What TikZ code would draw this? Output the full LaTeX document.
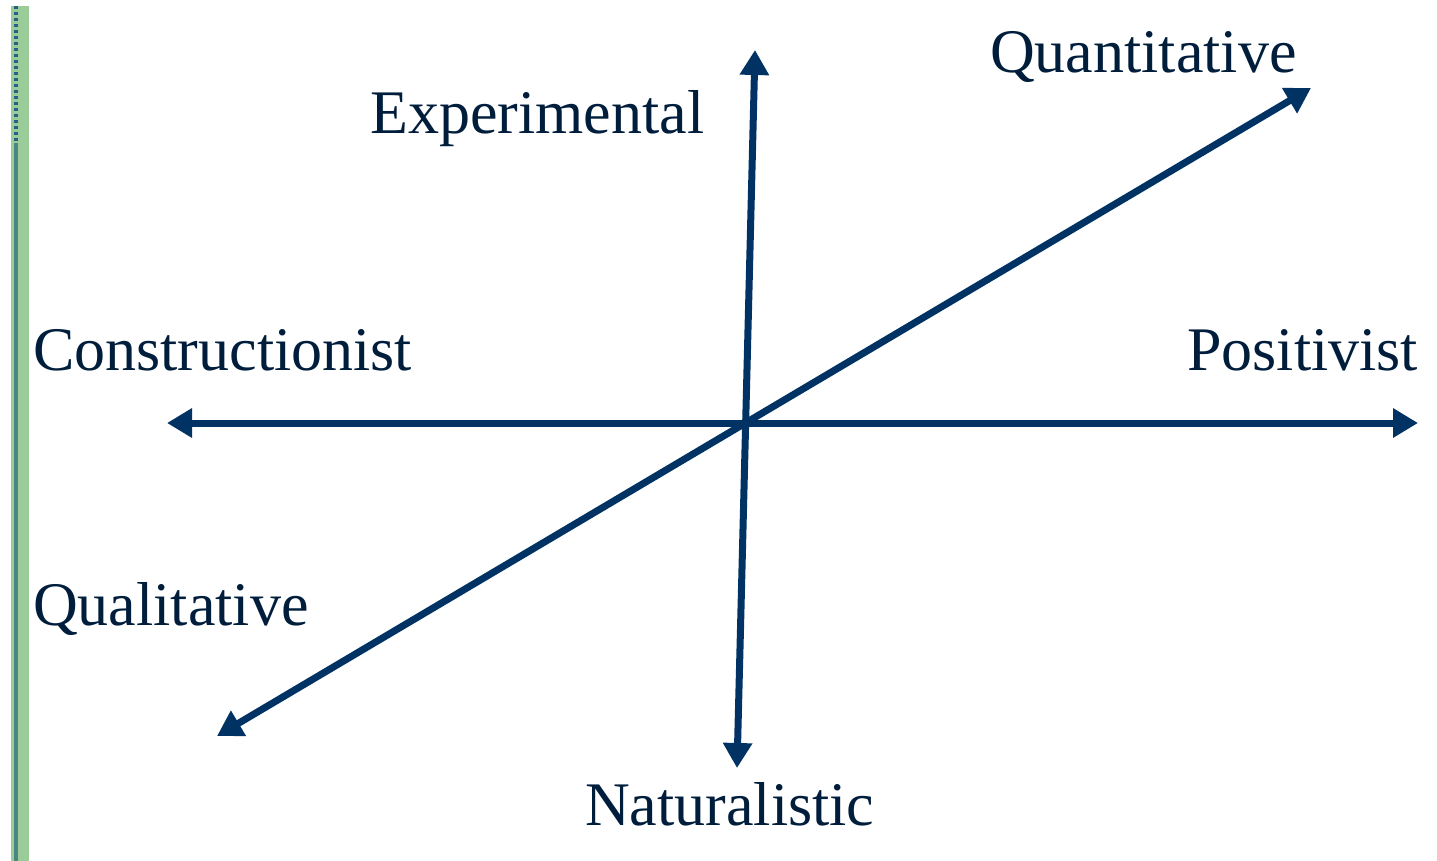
\documentclass[tikz,border=0pt]{standalone}
\usepackage{fontspec}
\setmainfont{Liberation Serif}
\usetikzlibrary{arrows.meta}
\definecolor{navy}{RGB}{0,50,100}
\definecolor{barg}{RGB}{153,204,153}
\definecolor{barline}{RGB}{75,135,130}
\definecolor{bardot}{RGB}{40,95,135}
\begin{document}
\begin{tikzpicture}[x=1pt,y=-1pt,
  axis/.style={draw=navy,line width=7pt,{Triangle[length=25pt,width=28pt]}-{Triangle[length=25pt,width=28pt]}},
  lbl/.style={anchor=base west,inner sep=0pt,text=navy!60!black,font=\fontsize{62}{70}\selectfont}]
\useasboundingbox (0,0) rectangle (1437,861);
\fill[barg] (11,6) rectangle (29,861);
\draw[barline,line width=4pt] (15.5,143) -- (15.5,861);
\draw[bardot,line width=4pt,dash pattern=on 3pt off 3pt] (15.5,6) -- (15.5,143);
\coordinate (vt) at (755,50);
\coordinate (vb) at (737,768);
\coordinate (hl) at (167,423);
\coordinate (hr) at (1418,423);
\coordinate (dl) at (217,736);
\coordinate (dr) at (1311,88);
\draw[axis] (hl) -- (hr);
\draw[axis] (vb) -- (vt);
\draw[axis] (dl) -- (dr);
\node[lbl] (quan) at (990,73) {Quantitative};
\node[lbl] (expe) at (370,134) {Experimental};
\node[lbl] (cons) at (33,370) {Constructionist};
\node[lbl] (posi) at (1187,370) {Positivist};
\node[lbl] (qual) at (33,625) {Qualitative};
\node[lbl] (natu) at (585,825) {Naturalistic};
\end{tikzpicture}
\end{document}
